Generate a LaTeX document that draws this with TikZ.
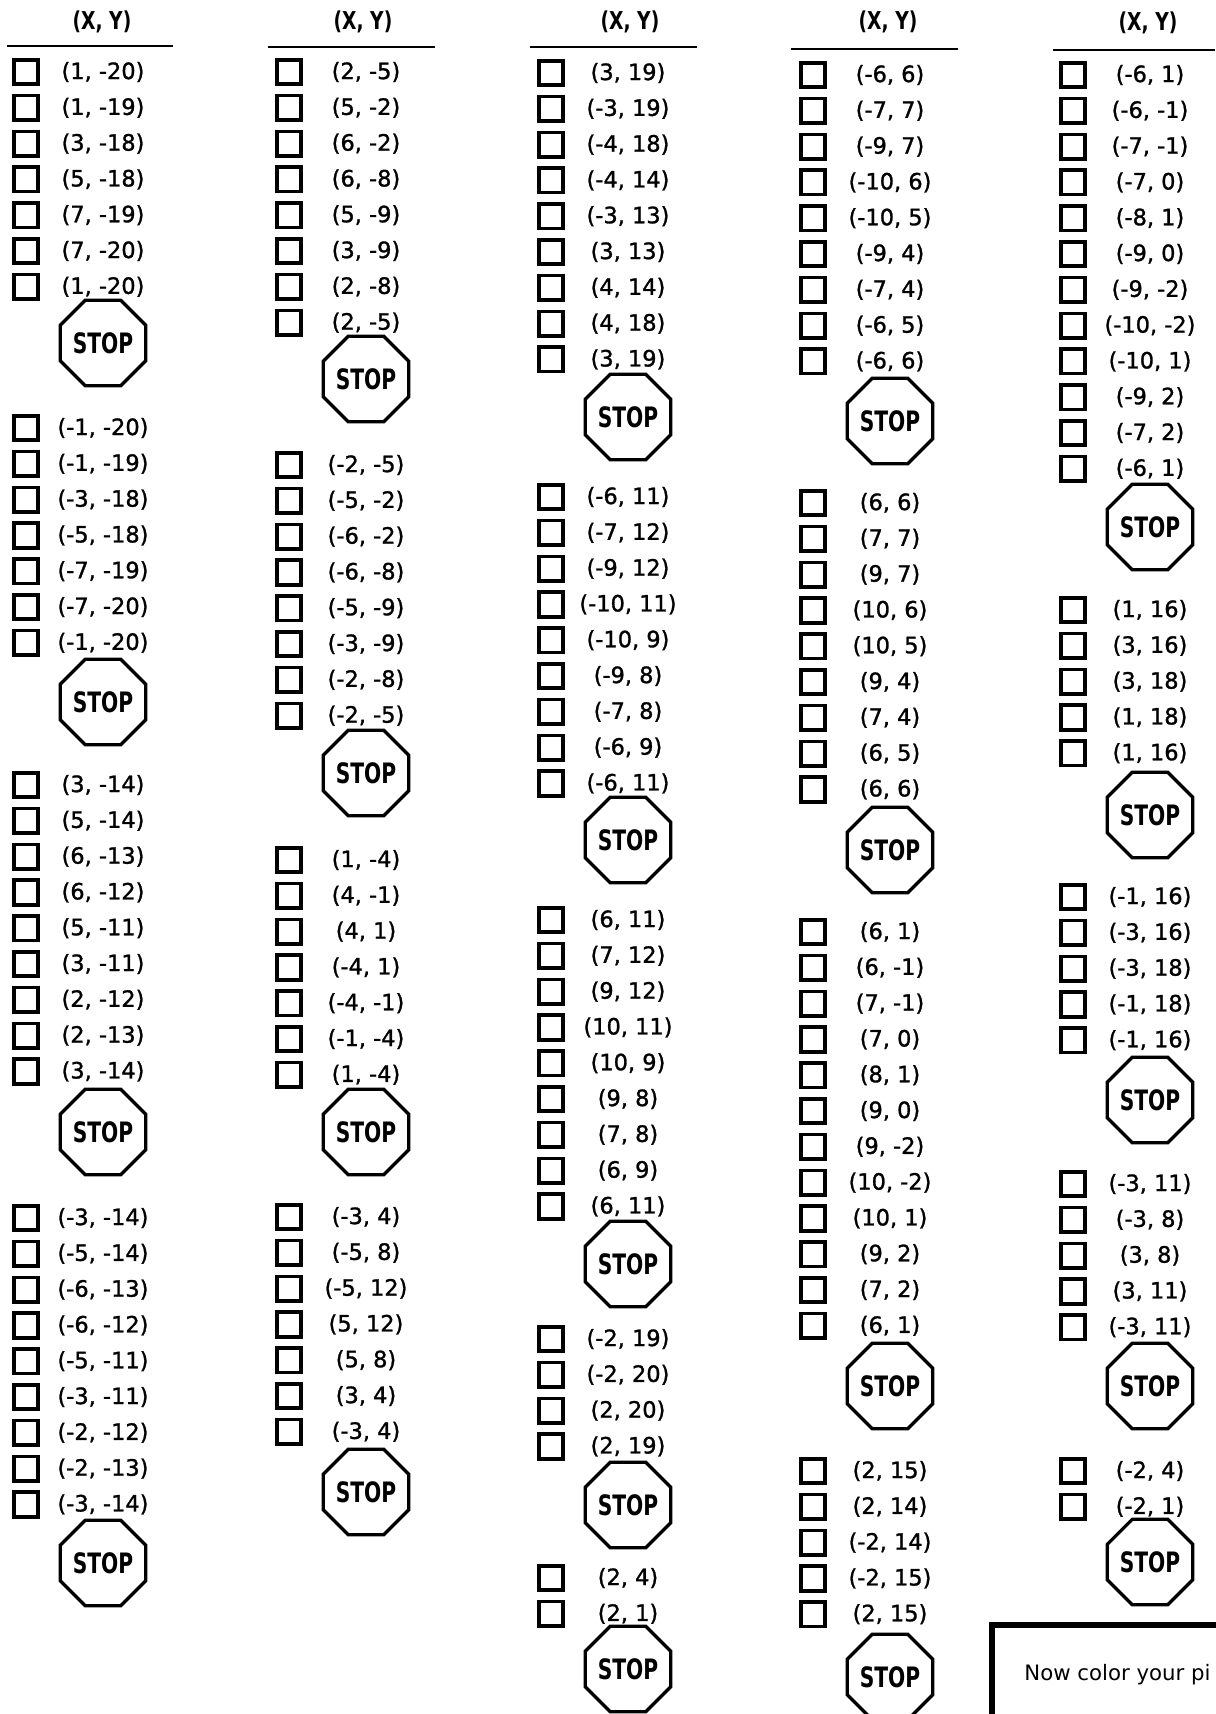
\documentclass[tikz,border=0pt]{standalone}
\usepackage{graphicx}
\usepackage{fontspec}
\setmainfont{DejaVu Sans}
\newfontfamily\ptfont{DejaVu Sans}[FakeBold=1.2]
\usetikzlibrary{shapes.geometric}

\tikzset{
  chk/.style={draw,line width=2.1pt,minimum size=0.49cm,inner sep=0pt},
  pt/.style={font=\fontsize{12.8}{15}\ptfont,inner sep=0pt},
  hdr/.style={font=\fontsize{14}{16}\selectfont\bfseries,inner sep=0pt},
  stopsign/.style={draw,line width=1.9pt,regular polygon,regular polygon sides=8,
    minimum size=1.6cm,inner sep=0pt,font=\fontsize{16}{18}\selectfont\bfseries},
  rule/.style={line width=1.7pt},
  note/.style={font=\fontsize{12.1}{14}\selectfont,inner sep=0pt,anchor=west},
}

% one run of points with its boxes, then a stop sign
\newcommand{\ptgroup}[5]{%
  \foreach \p [count=\i] in {#4} {
    \node[chk] (#1-b\i) at ({#2-77},{#3+(\i-1)*35.8}) {};
    \node[pt] (#1-t\i) at (#2,{#3+(\i-1)*35.8}) {\p};
  }
  \node[stopsign] (#1-stop) at (#2,#5) {\scalebox{0.72}[1]{STOP}};
}

\begin{document}
\begin{tikzpicture}[x=0.02cm,y=-0.02cm]
    \useasboundingbox (0,0) rectangle (1215,1714);

    % headers
    \node[hdr] (hd1) at (102,22) {\scalebox{0.76}[1]{(X, Y)}};
    \node[hdr] (hd2) at (363,22) {\scalebox{0.76}[1]{(X, Y)}};
    \node[hdr] (hd3) at (630,22) {\scalebox{0.76}[1]{(X, Y)}};
    \node[hdr] (hd4) at (888,22) {\scalebox{0.76}[1]{(X, Y)}};
    \node[hdr] (hd5) at (1148,23) {\scalebox{0.76}[1]{(X, Y)}};
    \draw[rule] (7,46) -- (173,46);
    \draw[rule] (268,47) -- (435,47);
    \draw[rule] (530,47) -- (697,47);
    \draw[rule] (791,49) -- (958,49);
    \draw[rule] (1053,50) -- (1215,50);

    % column 1
    \ptgroup{c1a}{103}{72}{{(1, -20)},{(1, -19)},{(3, -18)},{(5, -18)},{(7, -19)},{(7, -20)},{(1, -20)}}{343}
    \ptgroup{c1b}{103}{428}{{(-1, -20)},{(-1, -19)},{(-3, -18)},{(-5, -18)},{(-7, -19)},{(-7, -20)},{(-1, -20)}}{702}
    \ptgroup{c1c}{103}{785}{{(3, -14)},{(5, -14)},{(6, -13)},{(6, -12)},{(5, -11)},{(3, -11)},{(2, -12)},{(2, -13)},{(3, -14)}}{1132}
    \ptgroup{c1d}{103}{1218}{{(-3, -14)},{(-5, -14)},{(-6, -13)},{(-6, -12)},{(-5, -11)},{(-3, -11)},{(-2, -12)},{(-2, -13)},{(-3, -14)}}{1563}

    % column 2
    \ptgroup{c2a}{366}{72}{{(2, -5)},{(5, -2)},{(6, -2)},{(6, -8)},{(5, -9)},{(3, -9)},{(2, -8)},{(2, -5)}}{379}
    \ptgroup{c2b}{366}{465}{{(-2, -5)},{(-5, -2)},{(-6, -2)},{(-6, -8)},{(-5, -9)},{(-3, -9)},{(-2, -8)},{(-2, -5)}}{773}
    \ptgroup{c2c}{366}{860}{{(1, -4)},{(4, -1)},{(4, 1)},{(-4, 1)},{(-4, -1)},{(-1, -4)},{(1, -4)}}{1132}
    \ptgroup{c2d}{366}{1217}{{(-3, 4)},{(-5, 8)},{(-5, 12)},{(5, 12)},{(5, 8)},{(3, 4)},{(-3, 4)}}{1492}

    % column 3
    \ptgroup{c3a}{628}{73}{{(3, 19)},{(-3, 19)},{(-4, 18)},{(-4, 14)},{(-3, 13)},{(3, 13)},{(4, 14)},{(4, 18)},{(3, 19)}}{417}
    \ptgroup{c3b}{628}{497}{{(-6, 11)},{(-7, 12)},{(-9, 12)},{(-10, 11)},{(-10, 9)},{(-9, 8)},{(-7, 8)},{(-6, 9)},{(-6, 11)}}{840}
    \ptgroup{c3c}{628}{920}{{(6, 11)},{(7, 12)},{(9, 12)},{(10, 11)},{(10, 9)},{(9, 8)},{(7, 8)},{(6, 9)},{(6, 11)}}{1264}
    \ptgroup{c3d}{628}{1339}{{(-2, 19)},{(-2, 20)},{(2, 20)},{(2, 19)}}{1505}
    \ptgroup{c3e}{628}{1578}{{(2, 4)},{(2, 1)}}{1669}

    % column 4
    \ptgroup{c4a}{890}{75}{{(-6, 6)},{(-7, 7)},{(-9, 7)},{(-10, 6)},{(-10, 5)},{(-9, 4)},{(-7, 4)},{(-6, 5)},{(-6, 6)}}{421}
    \ptgroup{c4b}{890}{503}{{(6, 6)},{(7, 7)},{(9, 7)},{(10, 6)},{(10, 5)},{(9, 4)},{(7, 4)},{(6, 5)},{(6, 6)}}{850}
    \ptgroup{c4c}{890}{932}{{(6, 1)},{(6, -1)},{(7, -1)},{(7, 0)},{(8, 1)},{(9, 0)},{(9, -2)},{(10, -2)},{(10, 1)},{(9, 2)},{(7, 2)},{(6, 1)}}{1386}
    \ptgroup{c4d}{890}{1471}{{(2, 15)},{(2, 14)},{(-2, 14)},{(-2, 15)},{(2, 15)}}{1677}

    % column 5
    \ptgroup{c5a}{1150}{75}{{(-6, 1)},{(-6, -1)},{(-7, -1)},{(-7, 0)},{(-8, 1)},{(-9, 0)},{(-9, -2)},{(-10, -2)},{(-10, 1)},{(-9, 2)},{(-7, 2)},{(-6, 1)}}{527}
    \ptgroup{c5b}{1150}{610}{{(1, 16)},{(3, 16)},{(3, 18)},{(1, 18)},{(1, 16)}}{815}
    \ptgroup{c5c}{1150}{897}{{(-1, 16)},{(-3, 16)},{(-3, 18)},{(-1, 18)},{(-1, 16)}}{1100}
    \ptgroup{c5d}{1150}{1184}{{(-3, 11)},{(-3, 8)},{(3, 8)},{(3, 11)},{(-3, 11)}}{1386}
    \ptgroup{c5e}{1150}{1471}{{(-2, 4)},{(-2, 1)}}{1562}

    % colouring note, cut by the page edge
    \draw[line width=3.1pt] (992,1720) -- (992,1625) -- (1220,1625);
    \node[note] (nt) at (1024,1675) {Now color your pi};
\end{tikzpicture}
\end{document}
